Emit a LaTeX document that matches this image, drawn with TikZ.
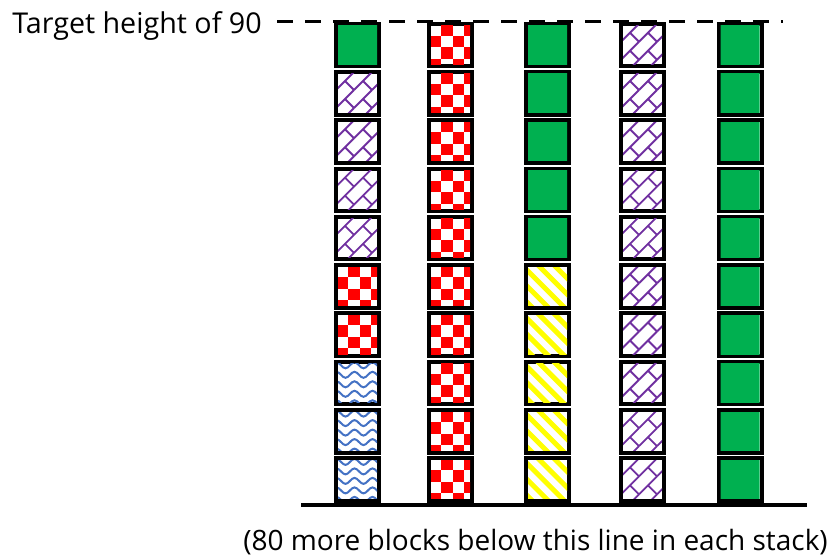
\documentclass[tikz,border=0pt]{standalone}
\usepackage{fontspec}
\setmainfont{Open Sans}
\usetikzlibrary{positioning}
\usepackage{xcolor}

\definecolor{blockgreen}{HTML}{00B050}
\definecolor{blockred}{HTML}{FF0000}
\definecolor{blockpurple}{HTML}{7030A0}
\definecolor{blockblue}{HTML}{4472C4}
\definecolor{blockyellow}{HTML}{FFFF00}

% fills for the blocks, drawn from the top left corner (nw)
\newcommand{\fillgreen}{%
  \fill[blockgreen] ([shift={(-5,-5)}]nw) rectangle ++(60,60);}
\newcommand{\fillred}{%
  \begin{scope}[shift={(nw)}]
    \foreach \i in {0,...,4}
      \foreach \j in {0,...,4}{
        \pgfmathtruncatemacro{\oddcell}{mod(\i+\j,2)}
        \ifnum\oddcell=1
          \fill[blockred] (-11+11.5*\i,-11+11.5*\j) rectangle ++(11.5,11.5);
        \fi
      }
  \end{scope}}
\newcommand{\fillyellow}{%
  \begin{scope}[shift={(nw)}]
    \foreach \k in {0,...,7}
      \draw[blockyellow, line width=3.75pt] (-56+16*\k,-4) -- ++(60,60);
  \end{scope}}
\newcommand{\fillpurple}{%
  \begin{scope}[shift={(nw)}]
    \foreach \i in {-1,...,3}
      \foreach \j in {-1,...,3}
        \draw[blockpurple, line width=1.4pt]
          (18*\i,18*\j+18) -- ++(18,-18)
          (18*\i+9,18*\j+9) -- ++(9,9);
  \end{scope}}
\newcommand{\fillblue}{%
  \begin{scope}[shift={(nw)}]
    \foreach \j in {0,...,5}
      \draw[blockblue, line width=1.5pt] (-4,3.5+9.5*\j)
        sin ++(4.5,-3) cos ++(4.5,3) sin ++(4.5,3) cos ++(4.5,-3)
        sin ++(4.5,-3) cos ++(4.5,3) sin ++(4.5,3) cos ++(4.5,-3)
        sin ++(4.5,-3) cos ++(4.5,3) sin ++(4.5,3) cos ++(4.5,-3);
  \end{scope}}
% fill the inside of block #1 with kind #2
\newcommand{\blockfill}[2]{%
  \begin{scope}
    \clip ([shift={(2,2)}]#1.north west) rectangle ([shift={(-2,-2)}]#1.south east);
    \coordinate (nw) at (#1.north west);
    \csname fill#2\endcsname
  \end{scope}}

\begin{document}
\begin{tikzpicture}[
  x=0.75pt, y=-0.75pt,
  block/.style={
    draw=black,
    line width=3pt,
    minimum width=32.25pt,
    minimum height=31.9pt,
    inner sep=0pt,
    outer sep=0pt
  },
  label/.style={
    inner sep=0pt,
    font=\fontsize{21.5pt}{26pt}\selectfont
  }
]
\useasboundingbox (0,0) rectangle (833,557);

% target height
\coordinate (tl) at (277,21.5);
\coordinate (tr) at (783,21.5);
\draw[line width=2.4pt, dash pattern=on 12pt off 9pt] (tl) -- (tr);
\node[label, anchor=base east] (target) at (262,33) {Target height of 90};

% the five stacks, top block first
\foreach \s [count=\r from 0] in {green,purple,purple,purple,purple,red,red,blue,blue,blue}{
  \node[block] (a\r) at (357.5,44.95+48.3*\r) {};
  \blockfill{a\r}{\s}}
\foreach \s [count=\r from 0] in {red,red,red,red,red,red,red,red,red,red}{
  \node[block] (b\r) at (450.5,44.95+48.3*\r) {};
  \blockfill{b\r}{\s}}
\foreach \s [count=\r from 0] in {green,green,green,green,green,yellow,yellow,yellow,yellow,yellow}{
  \node[block] (c\r) at (547.5,44.95+48.3*\r) {};
  \blockfill{c\r}{\s}}
\foreach \s [count=\r from 0] in {purple,purple,purple,purple,purple,purple,purple,purple,purple,purple}{
  \node[block] (d\r) at (642.5,44.95+48.3*\r) {};
  \blockfill{d\r}{\s}}
\foreach \s [count=\r from 0] in {green,green,green,green,green,green,green,green,green,green}{
  \node[block] (e\r) at (740,44.95+48.3*\r) {};
  \blockfill{e\r}{\s}}

% floor
\coordinate (fl) at (301,505);
\coordinate (fr) at (807,505);
\draw[line width=3pt] (fl) -- (fr);
\node[label, font=\fontsize{21pt}{26pt}\selectfont, anchor=base] (note) at (535.5,550)
  {(80 more blocks below this line in each stack)};

\end{tikzpicture}
\end{document}
